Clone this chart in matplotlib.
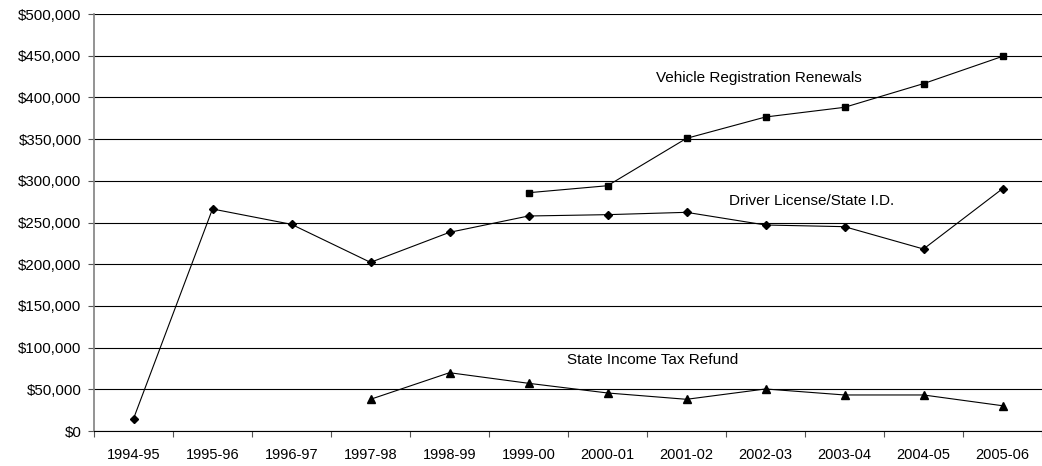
import numpy as np
import matplotlib
matplotlib.use("Agg")
import matplotlib.pyplot as plt
from matplotlib.ticker import FuncFormatter

plt.rcParams["font.family"] = ["Liberation Sans", "DejaVu Sans"]

# ── Data ─────────────────────────────────────────────────────────────────────

years = ["1994-95", "1995-96", "1996-97", "1997-98", "1998-99", "1999-00",
         "2000-01", "2001-02", "2002-03", "2003-04", "2004-05", "2005-06"]

driver_license = [14700, 266200, 247800, 202200, 238200, 257800,
                  259400, 262200, 247000, 245000, 218200, 290500]

vehicle_reg = [None, None, None, None, None, 285700,
               294100, 350900, 376500, 388100, 416500, 449200]

income_tax = [None, None, None, 38000, 69900, 57200,
              45600, 38000, 50400, 43200, 43200, 30300]

y_ticks = np.arange(0, 500001, 50000)

# ── Plot ─────────────────────────────────────────────────────────────────────

fig = plt.figure(figsize=(10.42, 4.66), dpi=100)
ax = fig.add_axes([94 / 1042, 35 / 466, 948 / 1042, 417 / 466])

x = np.arange(len(years))


def series(vals):
    return np.array([np.nan if v is None else v for v in vals], dtype=float)


ax.plot(x, series(vehicle_reg), color="black", lw=0.8, marker="s", ms=4.8, zorder=3)
ax.plot(x, series(driver_license), color="black", lw=0.8, marker="D", ms=4.3, zorder=3)
ax.plot(x, series(income_tax), color="black", lw=0.8, marker="^", ms=5.5, zorder=3)

ax.set_xlim(-0.5, len(years) - 0.5)
ax.set_ylim(0, 500000)
ax.set_yticks(y_ticks)
ax.yaxis.set_major_formatter(FuncFormatter(lambda v, p: f"${v:,.0f}"))
ax.grid(axis="y", color="black", lw=0.8)
ax.set_axisbelow(True)

ax.set_xticks(x)
ax.set_xticklabels(years)
ax.set_xticks(np.arange(-0.5, len(years)), minor=True)
ax.tick_params(axis="x", which="major", length=0, pad=12, labelsize=10.5)
ax.tick_params(axis="x", which="minor", length=4, width=0.8, color="#555555")
ax.tick_params(axis="y", length=4, width=0.8, color="#555555", pad=5, labelsize=10.8)

for side in ["top", "right"]:
    ax.spines[side].set_visible(False)
ax.spines["left"].set_color("#808080")
ax.spines["left"].set_linewidth(1.2)
ax.spines["bottom"].set_color("black")
ax.spines["bottom"].set_linewidth(0.8)

# series labels
ax.text(6.61, 423000, "Vehicle Registration Renewals", fontsize=11, va="center")
ax.text(7.54, 276000, "Driver License/State I.D.", fontsize=11, va="center")
ax.text(5.49, 85000, "State Income Tax Refund", fontsize=11, va="center")

fig.savefig("out.png", dpi=100)
